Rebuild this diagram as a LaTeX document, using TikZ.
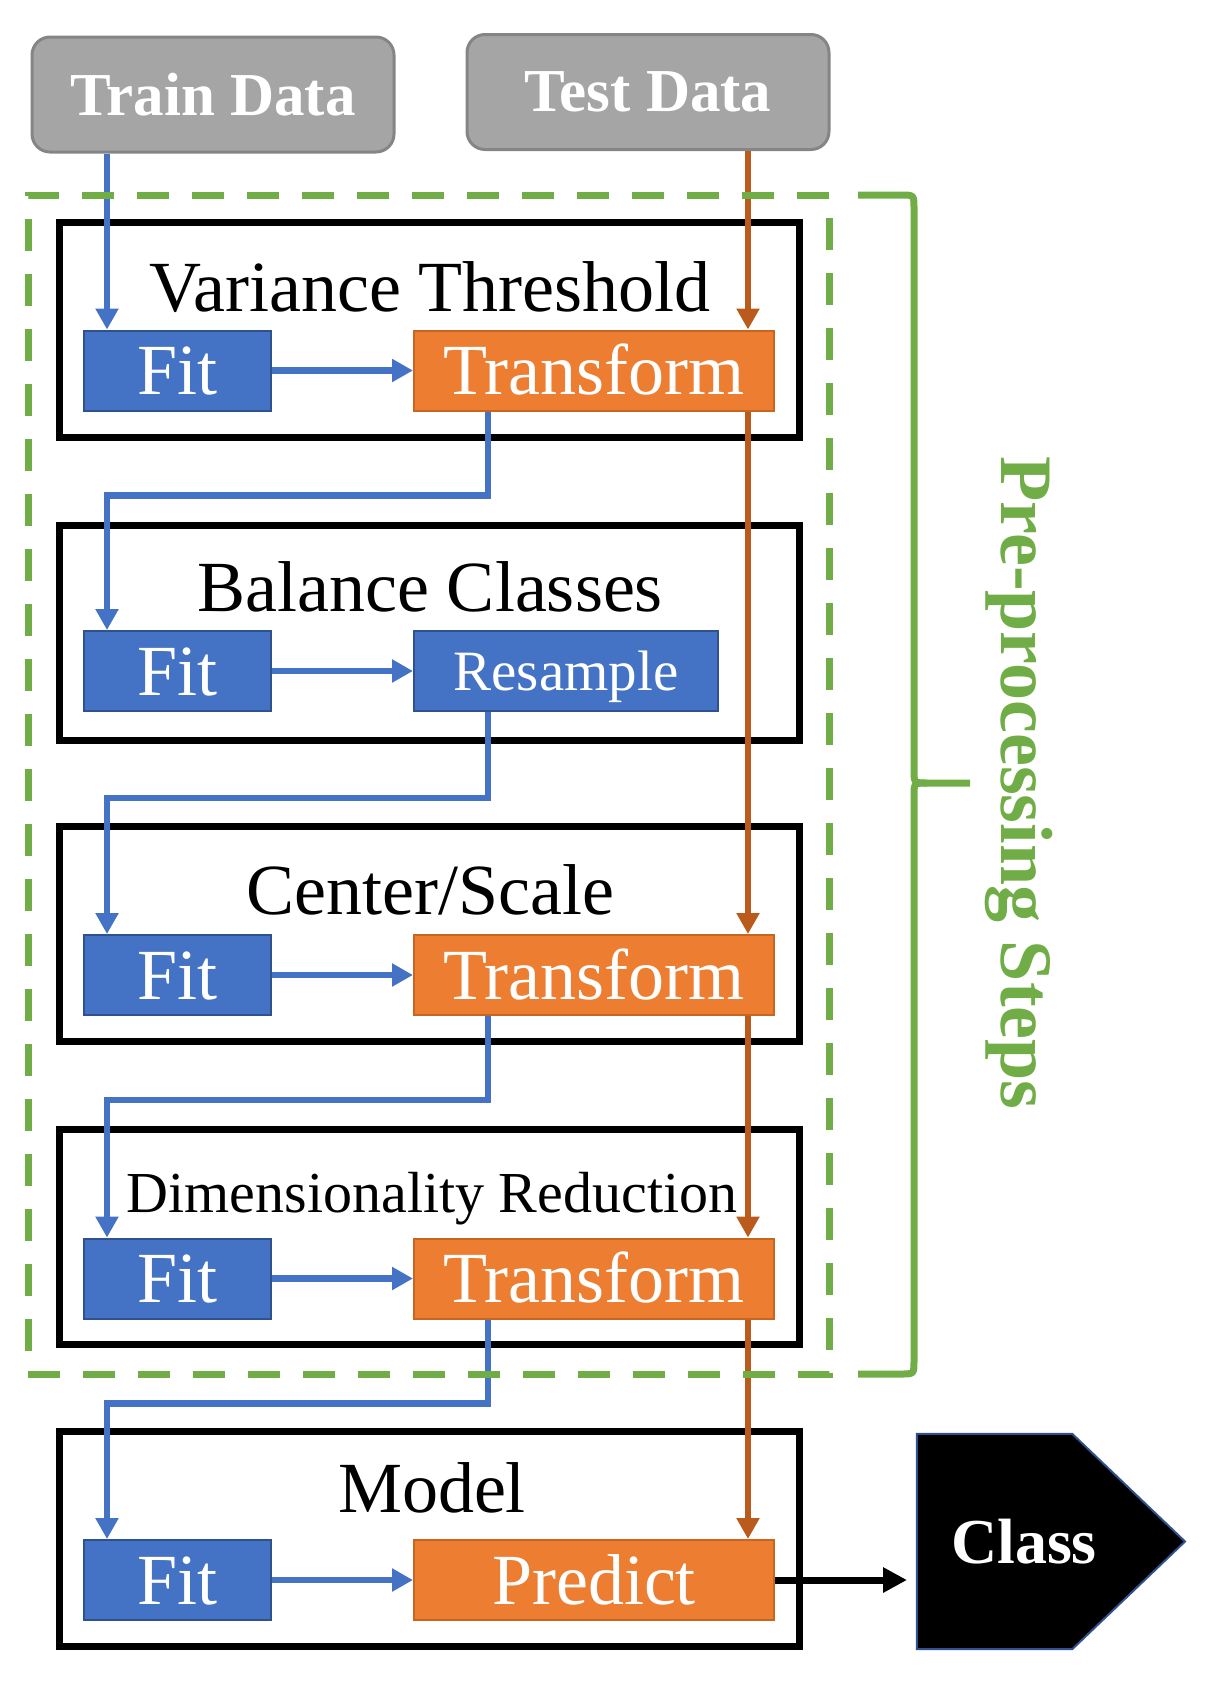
\documentclass[tikz,border=0pt]{standalone}
\usepackage{fontspec}
\setmainfont{Liberation Serif}
\usetikzlibrary{arrows.meta,calc}
\definecolor{fitblue}{HTML}{4472C4}
\definecolor{fitborder}{HTML}{2F528F}
\definecolor{trorange}{HTML}{ED7D31}
\definecolor{trborder}{HTML}{C8651F}
\definecolor{brownline}{HTML}{BA5A1C}
\definecolor{greyfill}{HTML}{A5A5A5}
\definecolor{greyborder}{HTML}{858585}
\definecolor{ppgreen}{HTML}{70AD47}
\begin{document}
\begin{tikzpicture}[x=1pt,y=-1pt,
  databox/.style={draw=greyborder, line width=3pt, fill=greyfill, rounded corners=18pt,
    minimum width=362pt, minimum height=115pt, inner sep=0pt, text=white,
    font=\bfseries\fontsize{61}{70}\selectfont},
  fitbox/.style={draw=fitborder, line width=2pt, fill=fitblue, text=white,
    minimum width=187pt, minimum height=80pt, inner sep=0pt,
    font=\fontsize{72}{80}\selectfont, text height=48pt, text depth=0pt},
  trbox/.style={draw=trborder, line width=2pt, fill=trorange, text=white,
    minimum width=360pt, minimum height=80pt, inner sep=0pt,
    font=\fontsize{72}{80}\selectfont, text height=48pt, text depth=0pt},
  resbox/.style={draw=fitborder, line width=2pt, fill=fitblue, text=white,
    minimum width=304pt, minimum height=80pt, inner sep=0pt,
    font=\fontsize{57}{64}\selectfont, text height=38pt, text depth=0pt},
  frame/.style={draw=black, line width=7pt, minimum width=740pt, minimum height=215pt, inner sep=0pt},
  title/.style={anchor=base, inner sep=0pt, font=\fontsize{72}{80}\selectfont},
  barrow/.style={draw=fitblue, line width=6.5pt, -{Triangle[length=21pt,width=22pt]}},
  brarrow/.style={draw=brownline, line width=6.5pt, -{Triangle[length=21pt,width=22pt]}},
  karrow/.style={draw=black, line width=7pt, -{Triangle[length=24pt,width=24pt]}},
  greendash/.style={draw=ppgreen, line width=7pt, dash pattern=on 32pt off 23pt},
]
\useasboundingbox (0,0) rectangle (1217,1682);

% column coordinates
\coordinate (lx) at (107,0);
\coordinate (mx) at (488,0);
\coordinate (rx) at (748,0);
\coordinate (clsin) at (907,0);

% frames
\node[frame] (g1) at (429,330) {};
\node[frame] (g2) at (429,632.5) {};
\node[frame] (g3) at (429,934) {};
\node[frame] (g4) at (429,1236.5) {};
\node[frame] (g5) at (429,1538.5) {};

% titles
\node[title] (t1) at (430,311) {Variance Threshold};
\node[title] (t2) at (430,611) {Balance Classes};
\node[title] (t3) at (430,914) {Center/Scale};
\node[title,font=\fontsize{58}{64}\selectfont] (t4) at (432,1212) {Dimensionality Reduction};
\node[title] (t5) at (432,1512) {Model};

% data boxes
\node[databox] (train) at (213,94.5) {Train Data};
\node[databox] (test) at (648,92) {Test Data};

% step boxes
\node[fitbox] (fit1) at (177.5,370.5) {Fit};
\node[trbox]  (tr1)  at (594,370.5) {Transform};
\node[fitbox] (fit2) at (177.5,671) {Fit};
\node[resbox] (res)  at (566,671) {Resample};
\node[fitbox] (fit3) at (177.5,975) {Fit};
\node[trbox]  (tr3)  at (594,975) {Transform};
\node[fitbox] (fit4) at (177.5,1278.5) {Fit};
\node[trbox]  (tr4)  at (594,1278.5) {Transform};
\node[fitbox] (fit5) at (177.5,1580) {Fit};
\node[trbox]  (pred) at (594,1580) {Predict};

% fit -> transform arrows
\draw[barrow] (fit1.east) -- (tr1.west);
\draw[barrow] (fit2.east) -- (res.west);
\draw[barrow] (fit3.east) -- (tr3.west);
\draw[barrow] (fit4.east) -- (tr4.west);
\draw[barrow] (fit5.east) -- (pred.west);

% train data chain
\draw[barrow] (train.south -| lx) -- (fit1.north -| lx);
\draw[barrow] (tr1.south -| mx) -- ++(0,84) -| (fit2.north -| lx);
\draw[barrow] (res.south -| mx) -- ++(0,86) -| (fit3.north -| lx);
\draw[barrow] (tr3.south -| mx) -- ++(0,84) -| (fit4.north -| lx);
\draw[barrow] (tr4.south -| mx) -- ++(0,84) -| (fit5.north -| lx);

% test data chain
\draw[brarrow] (test.south -| rx) -- (tr1.north -| rx);
\draw[brarrow] (tr1.south -| rx) -- (tr3.north -| rx);
\draw[brarrow] (tr3.south -| rx) -- (tr4.north -| rx);
\draw[brarrow] (tr4.south -| rx) -- (pred.north -| rx);

% dashed pre-processing region
\node[greendash, minimum width=801pt, minimum height=1179pt, inner sep=0pt] (pre) at (428.5,784.5) {};

% brace
\draw[draw=ppgreen, line width=7pt, line join=round]
  (858,195) -- (901,195) .. controls (914,195) .. (914,208) -- (914,770)
  .. controls (914,783) .. (927,783) -- (970,783);
\draw[draw=ppgreen, line width=7pt, line join=round]
  (858,1374) -- (901,1374) .. controls (914,1374) .. (914,1361) -- (914,796)
  .. controls (914,783) .. (927,783);
\node[rotate=-90, anchor=base, inner sep=0pt, text=ppgreen,
  font=\bfseries\fontsize{74}{80}\selectfont] (pps) at (1001,783) {Pre-processing Steps};

% class pentagon
\node[minimum width=155pt, minimum height=215pt, inner sep=0pt] (classbox) at (994.5,1541.5) {};
\filldraw[fill=black, draw=fitborder, line width=2pt]
  (classbox.north west) -- (classbox.north east) -- (1185,1541.5)
  -- (classbox.south east) -- (classbox.south west) -- cycle;
\node[text=white, font=\bfseries\fontsize{64}{70}\selectfont, inner sep=0pt] (cls) at (1024,1541.5) {Class};

\draw[karrow] (pred.east) -- (pred.east -| clsin);
\end{tikzpicture}
\end{document}
